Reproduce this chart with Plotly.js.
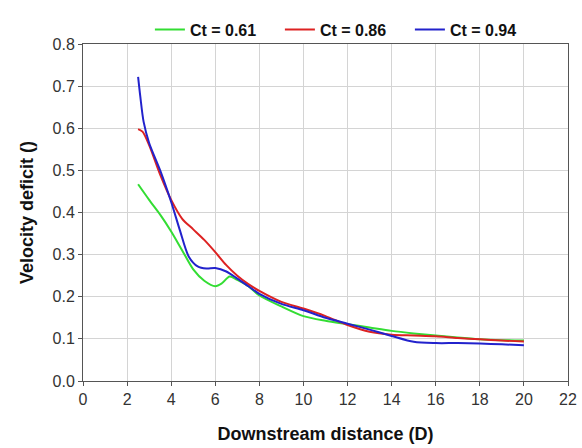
<!DOCTYPE html>
<html>
<head>
<meta charset="utf-8">
<script src="https://cdn.plot.ly/plotly-3.0.1.min.js"></script>
<style>html,body{margin:0;padding:0;background:#fff;}#chart{width:582px;height:448px;}</style>
</head>
<body>
<div id="chart"></div>
<script>
const seriesNames = ["Ct = 0.61", "Ct = 0.86", "Ct = 0.94"];
const xGreen = [2.5, 3, 3.5, 4, 4.5, 5, 5.5, 6, 6.3, 6.65, 7, 7.5, 8, 9, 10, 11, 12, 13, 14, 15, 16, 17, 18, 19, 20];
const yGreen = [0.467, 0.43, 0.395, 0.355, 0.31, 0.265, 0.238, 0.225, 0.232, 0.248, 0.24, 0.225, 0.203, 0.177, 0.154, 0.143, 0.135, 0.127, 0.119, 0.113, 0.108, 0.103, 0.099, 0.097, 0.096];
const xRed = [2.5, 2.7, 3, 3.5, 4, 4.5, 5, 5.5, 6, 6.5, 7, 7.5, 8, 9, 10, 11, 12, 13, 14, 15, 16, 17, 18, 19, 20];
const yRed = [0.598, 0.592, 0.56, 0.49, 0.43, 0.385, 0.36, 0.335, 0.306, 0.275, 0.25, 0.23, 0.214, 0.188, 0.172, 0.154, 0.133, 0.117, 0.11, 0.108, 0.106, 0.102, 0.099, 0.096, 0.094];
const xBlue = [2.5, 2.6, 2.75, 3, 3.5, 4, 4.4, 4.8, 5.2, 5.6, 6, 6.5, 7, 7.5, 8, 9, 10, 11, 12, 13, 14, 15, 16, 17, 18, 19, 20];
const yBlue = [0.722, 0.675, 0.615, 0.565, 0.50, 0.425, 0.357, 0.295, 0.272, 0.267, 0.268, 0.26, 0.243, 0.225, 0.207, 0.183, 0.168, 0.15, 0.136, 0.122, 0.107, 0.093, 0.09, 0.09, 0.089, 0.087, 0.085];
const colors = ["#33dd33", "#dd2222", "#2222cc"];

const traces = [
  {x: xGreen, y: yGreen, name: seriesNames[0], mode: "lines", line: {color: colors[0], width: 2, shape: "spline", smoothing: 0.8}},
  {x: xRed, y: yRed, name: seriesNames[1], mode: "lines", line: {color: colors[1], width: 2, shape: "spline", smoothing: 0.8}},
  {x: xBlue, y: yBlue, name: seriesNames[2], mode: "lines", line: {color: colors[2], width: 2, shape: "spline", smoothing: 0.8}}
];

const fam = "Liberation Sans, Arial, sans-serif";
const axisCommon = {
  showgrid: true, gridcolor: "#d4d4d4", gridwidth: 1,
  showline: true, linecolor: "#555", linewidth: 1, mirror: true,
  ticks: "outside", ticklen: 4, tickcolor: "#555",
  zeroline: false,
  tickfont: {family: fam, size: 16, color: "#333"}
};

const layout = {
  width: 582, height: 448,
  margin: {l: 83, r: 14, t: 32, b: 67},
  paper_bgcolor: "#fff", plot_bgcolor: "#fff",
  showlegend: true,
  legend: {orientation: "h", x: 0.54, xanchor: "center", y: 1.043, yanchor: "middle",
    font: {family: fam, size: 16, color: "#111", weight: "bold"},
    entrywidth: 85, entrywidthmode: "pixels",
    bgcolor: "rgba(0,0,0,0)", tracegroupgap: 0},
  xaxis: Object.assign({}, axisCommon, {
    range: [0, 22], dtick: 2, tick0: 0,
    title: {text: "<b>Downstream distance (D)</b>", font: {family: fam, size: 18, color: "#111"}, standoff: 20}
  }),
  yaxis: Object.assign({}, axisCommon, {
    range: [0, 0.8], dtick: 0.1, tick0: 0, tickformat: ".1f",
    title: {text: "<b>Velocity deficit ()</b>", font: {family: fam, size: 18, color: "#111"}, standoff: 14}
  })
};

Plotly.newPlot("chart", traces, layout, {displayModeBar: false, staticPlot: true});
</script>
</body>
</html>
